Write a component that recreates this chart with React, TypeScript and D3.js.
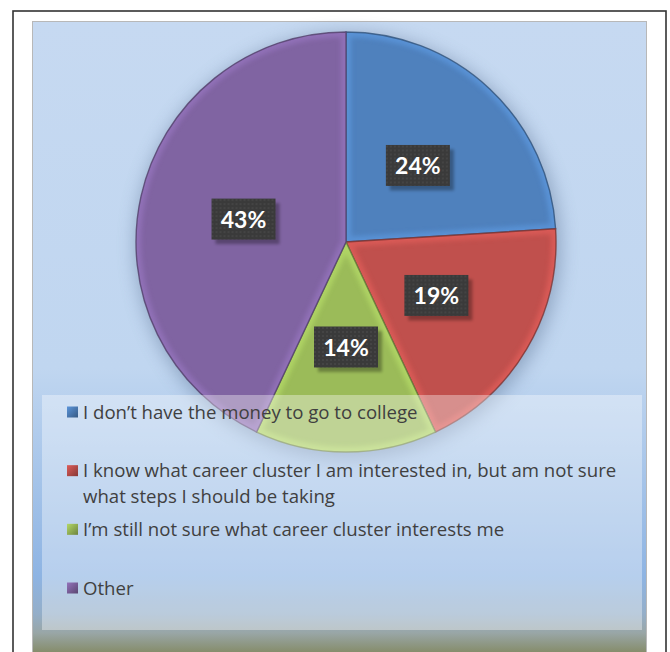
import { arc, color, pie, scalePoint } from 'd3';

// survey answers, share of respondents in %
const categories = [
  'I don’t have the money to go to college',
  'I know what career cluster I am interested in, but am not sure what steps I should be taking',
  'I’m still not sure what career cluster interests me',
  'Other',
];
const shares = [24, 19, 14, 43];
const sliceColors = ['#4f81bd', '#c0504d', '#9bbb59', '#8064a2'];
// legend text as Excel wrapped it
const legendLines = [
  ['I don’t have the money to go to college'],
  ['I know what career cluster I am interested in, but am not sure', 'what steps I should be taking'],
  ['I’m still not sure what career cluster interests me'],
  ['Other'],
];

const WIDTH = 670;
const HEIGHT = 652;
const CENTER = { x: 346, y: 242 };
const RADIUS = 210;
const LEGEND = { x: 42, y: 395, width: 600, height: 235 };
const LABEL_FONT = 'Lato, "Open Sans", sans-serif';
const LEGEND_FONT = '"Open Sans", "Noto Sans", sans-serif';

export default function App() {
  const slices = pie<number>().sort(null).value((d) => d)(shares);
  const arcPath = arc<any>().innerRadius(0).outerRadius(RADIUS);
  const rowY = scalePoint<number>()
    .domain(categories.map((_, i) => i))
    .range([412, 588]);

  return (
    <div style={{ position: 'absolute', left: 0, top: 0 }}>
      <svg width={WIDTH} height={HEIGHT} viewBox={`0 0 ${WIDTH} ${HEIGHT}`} style={{ display: 'block' }}>
        <defs>
          <linearGradient id="bg" gradientUnits="userSpaceOnUse" x1="0" y1="21" x2="0" y2="652">
            <stop offset="0" stopColor="#c6d9f1" />
            <stop offset="0.55" stopColor="#c0d6f0" />
            <stop offset="0.88" stopColor="#8eb4e3" />
            <stop offset="0.94" stopColor="#94aec8" />
            <stop offset="0.97" stopColor="#99a6a6" />
            <stop offset="1" stopColor="#868d6c" />
          </linearGradient>
          <filter id="pieShadow" x="-20%" y="-20%" width="140%" height="140%">
            <feGaussianBlur stdDeviation="9" />
          </filter>
          <filter id="rimBlur" x="-10%" y="-10%" width="120%" height="120%">
            <feGaussianBlur stdDeviation="2.5" />
          </filter>
          <filter id="boxShadow" x="-20%" y="-20%" width="150%" height="150%">
            <feGaussianBlur stdDeviation="1.5" />
          </filter>
          <pattern id="dots" width="4" height="4" patternUnits="userSpaceOnUse">
            <rect width="4" height="4" fill="#3a3a3a" />
            <circle cx="1" cy="1" r="0.8" fill="#505050" />
          </pattern>
          {slices.map((s, i) => (
            <clipPath key={i} id={`clip-${i}`}>
              <path d={arcPath(s) ?? ''} transform={`translate(${CENTER.x},${CENTER.y})`} />
            </clipPath>
          ))}
          {sliceColors.map((c, i) => {
            const base = color(c)!;
            return (
              <linearGradient key={i} id={`mk-${i}`} x1="0" y1="0" x2="1" y2="1">
                <stop offset="0" stopColor={base.brighter(0.4).formatHex()} />
                <stop offset="1" stopColor={base.darker(1).formatHex()} />
              </linearGradient>
            );
          })}
        </defs>

        <rect width={WIDTH} height={HEIGHT} fill="#ffffff" />
        <rect x={13} y={11} width={653} height={700} fill="#ffffff" stroke="#333333" strokeWidth={1.6} />
        <rect x={32.5} y={21.5} width={614} height={660} fill="url(#bg)" stroke="#b8b8b8" strokeWidth={1} />

        {/* soft shadow behind the pie */}
        <circle cx={CENTER.x + 2} cy={CENTER.y + 4} r={RADIUS + 3} fill="#4f6688" opacity={0.42} filter="url(#pieShadow)" />

        <g transform={`translate(${CENTER.x},${CENTER.y})`}>
          {slices.map((s, i) => {
            const base = color(sliceColors[i])!;
            return (
              <g key={i}>
                <path d={arcPath(s) ?? ''} fill={sliceColors[i]} />
                <g clipPath={`url(#clip-${i})`} transform={`translate(${-CENTER.x},${-CENTER.y})`}>
                  <path
                    d={arcPath(s) ?? ''}
                    transform={`translate(${CENTER.x},${CENTER.y})`}
                    fill="none"
                    stroke={base.brighter(0.6).formatHex()}
                    strokeWidth={10}
                    opacity={0.55}
                    filter="url(#rimBlur)"
                  />
                </g>
                <path d={arcPath(s) ?? ''} fill="none" stroke={base.darker(1.2).formatHex()} strokeWidth={1.4} opacity={0.8} />
              </g>
            );
          })}

          {slices.map((s, i) => {
            const [cx, cy] = arcPath.centroid(s);
            return (
              <g key={`lab-${i}`} transform={`translate(${cx},${cy})`}>
                <rect x={-28} y={-16} width={64} height={41} fill="#000000" opacity={0.3} filter="url(#boxShadow)" />
                <rect x={-32} y={-20.5} width={64} height={41} fill="url(#dots)" />
                <text
                  textAnchor="middle"
                  y={8.5}
                  fill="#ffffff"
                  fontFamily={LABEL_FONT}
                  fontWeight={700}
                  fontSize={23}
                >
                  {`${s.data}%`}
                </text>
              </g>
            );
          })}
        </g>

        {/* legend box, semi transparent over the pie */}
        <rect x={LEGEND.x} y={LEGEND.y} width={LEGEND.width} height={LEGEND.height} fill="#ffffff" opacity={0.36} />

        <g fontFamily={LEGEND_FONT} fontSize={18.6} fill="#404040">
          {categories.map((cat, i) => {
            const y = rowY(i)!;
            return (
              <g key={cat}>
                <rect x={67} y={y - 5.5} width={11} height={11} fill={`url(#mk-${i})`} />
                {legendLines[i].map((line, j) => (
                  <text key={j} x={83} y={y + 6.5 + j * 26}>
                    {line}
                  </text>
                ))}
              </g>
            );
          })}
        </g>
      </svg>
    </div>
  );
}
